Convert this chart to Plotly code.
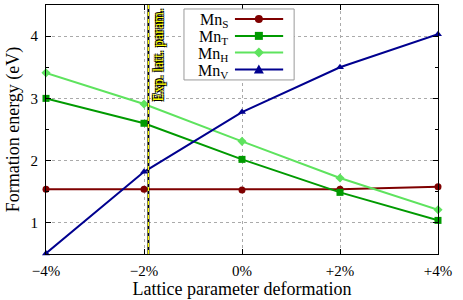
import plotly.graph_objects as go

deformation = [-4, -2, 0, 2, 4]
tick_labels = ["\u22124%", "\u22122%", "0%", "+2%", "+4%"]
mn_s = [1.54, 1.54, 1.53, 1.54, 1.58]
mn_t = [3.00, 2.60, 2.02, 1.49, 1.04]
mn_h = [3.41, 2.91, 2.31, 1.72, 1.21]
mn_v = [0.51, 1.82, 2.78, 3.50, 4.03]
exp_latt = -1.91
legend_names = ["Mn<sub>S</sub>", "Mn<sub>T</sub>", "Mn<sub>H</sub>", "Mn<sub>V</sub>"]
colors = ["#7f0000", "#009a00", "#5ee35e", "#00008f"]
symbols = ["circle", "square", "diamond", "triangle-up"]
values = [mn_s, mn_t, mn_h, mn_v]

font = "Liberation Serif, Times New Roman, serif"
fig = go.Figure()
for name, ys, col, sym in zip(legend_names, values, colors, symbols):
    fig.add_trace(go.Scatter(
        x=deformation, y=ys, name=name, mode="lines+markers",
        line=dict(color=col, width=2),
        marker=dict(symbol=sym, size=7, color=col),
        cliponaxis=False, showlegend=False, hoverinfo="skip",
    ))

# experimental lattice parameter marker line
fig.add_shape(type="line", xref="x", yref="paper", x0=exp_latt, x1=exp_latt,
              y0=0, y1=1, line=dict(color="black", width=2))
fig.add_shape(type="line", xref="x", yref="paper", x0=exp_latt, x1=exp_latt,
              y0=0, y1=1, line=dict(color="#ffff00", width=1.2, dash="4px,3px"))
fig.add_annotation(x=exp_latt, xref="x", y=1, yref="paper", text="Exp. latt. param.",
                   textangle=-90, showarrow=False, xanchor="left", yanchor="top",
                   xshift=1, yshift=-1,
                   font=dict(family=font, size=14, color="#ffff00",
                             shadow="-1px -1px 0 #000, 1px -1px 0 #000, -1px 1px 0 #000, 1px 1px 0 #000"))

# gnuplot-style key: text on the left, sample on the right
fig.add_shape(type="rect", xref="paper", yref="paper", x0=0.352, x1=0.633,
              y0=0.699, y1=0.984, line=dict(color="#999999", width=1),
              fillcolor="white", layer="above")
row_y = [0.944, 0.876, 0.809, 0.741]
for name, col, sym, yy in zip(legend_names, colors, symbols, row_y):
    fig.add_annotation(x=0.469, xref="paper", y=yy, yref="paper", text=name,
                       showarrow=False, xanchor="right", yanchor="middle", yshift=-2,
                       font=dict(family=font, size=16, color="black"))
    fig.add_shape(type="line", xref="paper", yref="paper", x0=0.482, x1=0.605,
                  y0=yy, y1=yy, line=dict(color=col, width=2), layer="above")
    if sym == "circle":
        fig.add_shape(type="circle", xref="paper", yref="paper", xsizemode="pixel",
                      ysizemode="pixel", xanchor=0.543, yanchor=yy,
                      x0=-4, x1=4, y0=-4, y1=4, fillcolor=col,
                      line=dict(color=col, width=0), layer="above")
    else:
        p = {"square": "M-4,-4 L4,-4 L4,4 L-4,4 Z",
             "diamond": "M0,-5 L5,0 L0,5 L-5,0 Z",
             "triangle-up": "M0,5 L5,-4 L-5,-4 Z"}[sym]
        fig.add_shape(type="path", xref="paper", yref="paper", xsizemode="pixel",
                      ysizemode="pixel", xanchor=0.543, yanchor=yy, path=p,
                      fillcolor=col, line=dict(color=col, width=0), layer="above")

fig.update_layout(
    width=463, height=300,
    margin=dict(l=46, r=25, t=5, b=46, autoexpand=False),
    paper_bgcolor="white", plot_bgcolor="white",
    font=dict(family=font, size=15, color="black"),
    showlegend=False, hovermode=False,
    xaxis=dict(range=[-4, 4], tickvals=deformation, ticktext=tick_labels,
               showgrid=True, gridcolor="#aaaaaa", griddash="dot", gridwidth=1,
               zeroline=False, showline=True, linecolor="black", linewidth=1,
               mirror="allticks", ticks="inside", ticklen=5, tickcolor="black",
               ticklabelstandoff=3,
               title=dict(text="Lattice parameter deformation", standoff=4),
               tickfont=dict(size=15)),
    yaxis=dict(range=[0.5, 4.5], tickvals=[1, 2, 3, 4],
               showgrid=True, gridcolor="#aaaaaa", griddash="dot", gridwidth=1,
               zeroline=False, showline=True, linecolor="black", linewidth=1,
               mirror="allticks", ticks="inside", ticklen=5, tickcolor="black",
               ticklabelstandoff=4,
               minor=dict(tickvals=[1.5, 2.5, 3.5], ticks="inside", ticklen=3,
                          tickcolor="black", showgrid=False),
               title=dict(text="Formation energy (eV)", standoff=6),
               tickfont=dict(size=15)),
)

fig.write_html("out.html", config={"displayModeBar": False},
               post_script="document.body.style.margin='0';document.body.style.padding='0';")
